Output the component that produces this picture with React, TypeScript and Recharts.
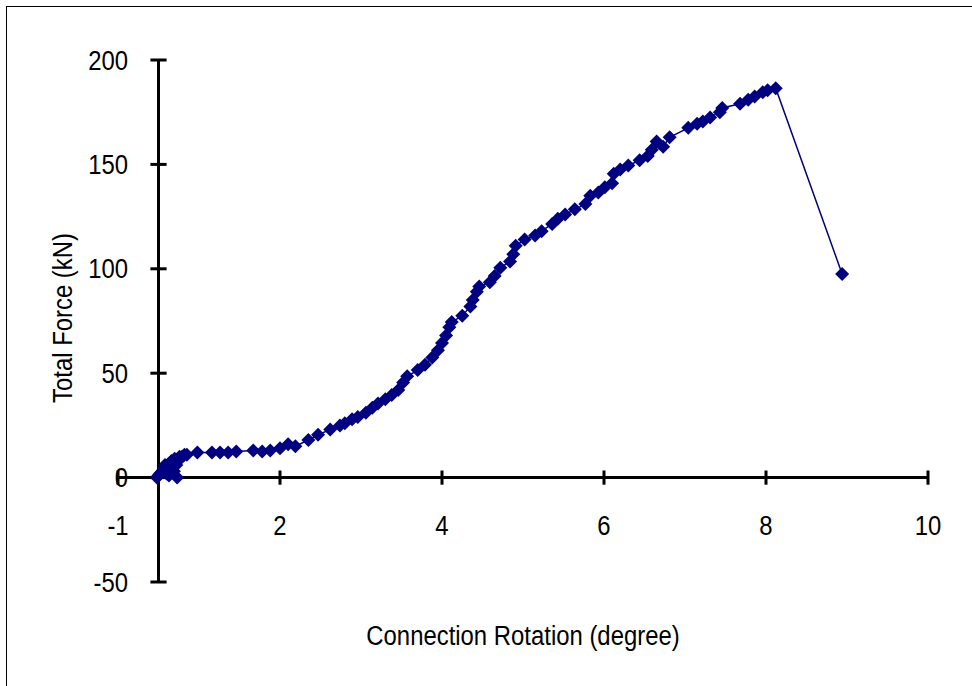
import { ScatterChart, Scatter, XAxis, YAxis, ReferenceLine } from 'recharts';

// connection rotation (degree)
const rotation = [
  0.48, 0.5, 0.52, 0.55, 0.56, 0.58, 0.6, 0.62, 0.63, 0.64, 0.66, 0.68,
  0.69, 0.7, 0.72, 0.73, 0.74, 0.76, 0.79, 0.82, 0.85,
  0.98, 1.16, 1.26, 1.36, 1.46, 1.67, 1.78, 1.88, 2.0, 2.1, 2.19,
  2.35, 2.47, 2.62, 2.74, 2.8, 2.89, 2.96, 3.06, 3.14, 3.21, 3.3, 3.38,
  3.46, 3.52, 3.57, 3.7, 3.79, 3.88, 3.95, 4.0, 4.05, 4.09, 4.12, 4.25,
  4.35, 4.38, 4.43, 4.46, 4.59, 4.65, 4.72, 4.84, 4.88, 4.91, 5.02, 5.15,
  5.23, 5.36, 5.43, 5.52, 5.64, 5.77, 5.83, 5.93, 6.01, 6.1, 6.12, 6.2,
  6.3, 6.44, 6.54, 6.59, 6.65, 6.73, 6.81, 7.04, 7.15, 7.22, 7.31, 7.43,
  7.46, 7.68, 7.78, 7.86, 7.96, 8.02, 8.12, 8.94,
];

// total force (kN)
const force = [
  0, 1, 2, 3, 4, 6, 2, 4, 1, 7, 8, 5,
  3, 9, 6, 0, 8, 10, 10, 11, 11,
  12, 12, 12, 12, 12.5, 13, 12.5, 13, 14, 16, 15,
  18, 20.5, 23, 25, 26, 28, 29, 31, 33.5, 35.5, 37.5, 39.5,
  42, 45.5, 48.5, 51.5, 54, 57.5, 61, 64.5, 68, 72, 74.5, 77.5,
  82, 85, 89, 91.5, 93.5, 96.5, 100.5, 103.5, 107, 111, 114, 116,
  118, 121.5, 124, 126, 128.5, 131, 135, 136.5, 139, 141, 145.5, 147.5,
  149.5, 152, 154, 157, 161, 158.5, 163, 167.5, 169.5, 170.5, 172.5, 175,
  177, 179, 181, 182.5, 184.5, 185.5, 186.5, 97.5,
];

const xTicks = [0, 2, 4, 6, 8, 10];
const yTicks = [-50, 0, 50, 100, 150, 200];
// the original sheet labels the first x tick "-1"
const xTickLabels = ['-1', '2', '4', '6', '8', '10'];

const Y_AXIS_AT = 0.5;
const NAVY = '#000080';
const FONT = '"Liberation Sans", Arial, sans-serif';

const data = rotation.map((r, i) => ({ rotation: r, force: force[i] }));

function Diamond(props: any) {
  const { cx, cy } = props;
  if (cx == null || cy == null) return null;
  const r = 7;
  return (
    <polygon
      points={`${cx},${cy - r} ${cx + r},${cy} ${cx},${cy + r} ${cx - r},${cy}`}
      fill={NAVY}
    />
  );
}

function XTick(props: any) {
  const { x, y, payload } = props;
  const idx = xTicks.indexOf(payload.value);
  return (
    <text
      transform={`translate(${x},${y - 57}) scale(0.885,1)`}
      textAnchor="middle"
      dominantBaseline="central"
      fontFamily={FONT}
      fontSize={27}
      fill="#000"
    >
      {idx >= 0 ? xTickLabels[idx] : payload.value}
    </text>
  );
}

function YTick(props: any) {
  const { x, y, payload } = props;
  return (
    <text
      transform={`translate(${x + 10},${y}) scale(0.885,1)`}
      textAnchor="end"
      dominantBaseline="central"
      fontFamily={FONT}
      fontSize={27}
      fill="#000"
    >
      {payload.value}
    </text>
  );
}

export default function App() {
  return (
    <div
      style={{
        position: 'absolute',
        left: 0,
        top: 0,
        width: 972,
        height: 686,
        overflow: 'hidden',
        background: '#fff',
      }}
    >
      <div
        style={{
          position: 'absolute',
          left: 6,
          top: 6,
          width: 1000,
          height: 720,
          border: '1.5px solid #000',
        }}
      />
      <div style={{ position: 'absolute', left: 0, top: 0 }}>
        <ScatterChart
          width={972}
          height={686}
          margin={{ top: 60, right: 44, left: 0, bottom: 74 }}
        >
          <XAxis
            type="number"
            dataKey="rotation"
            domain={[0, 10]}
            ticks={xTicks}
            axisLine={false}
            tickLine={false}
            tickSize={0}
            tickMargin={0}
            height={30}
            tick={<XTick />}
            label={{
              content: (p: any) => (
                <text
                  transform={`translate(${p.viewBox.x + p.viewBox.width / 2},${p.viewBox.y + 53}) scale(0.885,1)`}
                  textAnchor="middle"
                  dominantBaseline="central"
                  fontFamily={FONT}
                  fontSize={27}
                  fill="#000"
                >
                  Connection Rotation (degree)
                </text>
              ),
            }}
          />
          <YAxis
            type="number"
            dataKey="force"
            domain={[-50, 200]}
            ticks={yTicks}
            axisLine={false}
            tickLine={false}
            tickSize={0}
            tickMargin={0}
            width={118}
            tick={<YTick />}
            label={{
              content: (p: any) => (
                <text
                  transform={`translate(62,${p.viewBox.y + p.viewBox.height / 2 - 3}) rotate(-90) scale(0.885,1)`}
                  textAnchor="middle"
                  dominantBaseline="central"
                  fontFamily={FONT}
                  fontSize={27}
                  fill="#000"
                >
                  Total Force (kN)
                </text>
              ),
            }}
          />
          <ReferenceLine y={0} stroke="#000" strokeWidth={3} />
          <ReferenceLine x={Y_AXIS_AT} stroke="#000" strokeWidth={3} />
          {xTicks.map((t) => (
            <ReferenceLine
              key={`xt-${t}`}
              segment={[
                { x: t, y: -3.4 },
                { x: t, y: 3.4 },
              ]}
              stroke="#000"
              strokeWidth={3}
            />
          ))}
          {yTicks.map((t) => (
            <ReferenceLine
              key={`yt-${t}`}
              segment={[
                { x: Y_AXIS_AT - 0.1, y: t },
                { x: Y_AXIS_AT + 0.1, y: t },
              ]}
              stroke="#000"
              strokeWidth={3}
            />
          ))}
          <Scatter
            data={data}
            fill={NAVY}
            line={{ stroke: NAVY, strokeWidth: 1.5 }}
            shape={<Diamond />}
            isAnimationActive={false}
          />
        </ScatterChart>
      </div>
    </div>
  );
}
